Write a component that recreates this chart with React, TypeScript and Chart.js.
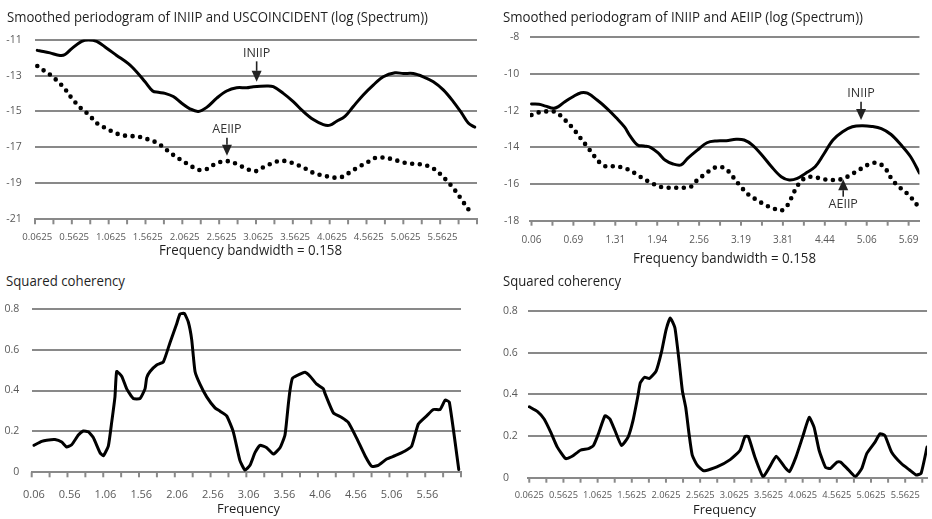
import React, { useEffect, useRef } from "react";
import { Chart, registerables } from "chart.js";

Chart.register(...registerables);

const GRID = "#898989";
const TICK_TEXT = "#595959";
const INK = "#000000";
const FONT = "'Open Sans', 'Noto Sans', sans-serif";

// ---------- Top-left: Smoothed periodogram of INIIP and USCOINCIDENT ----------
const tlIniipFreq = [0.0625, 0.144, 0.235, 0.371, 0.439, 0.53, 0.665, 0.755, 0.869, 1.005, 1.14, 1.298, 1.412, 1.525, 1.629, 1.705, 1.796, 1.909, 2.023, 2.135, 2.248, 2.362, 2.498, 2.633, 2.769, 2.905, 2.994, 3.176, 3.266, 3.402, 3.537, 3.673, 3.809, 3.945, 4.036, 4.126, 4.239, 4.352, 4.487, 4.623, 4.759, 4.918, 5.031, 5.166, 5.302, 5.438, 5.574, 5.709, 5.823, 5.913, 6.0];
const tlIniipVal = [-11.6, -11.66, -11.74, -11.88, -11.83, -11.5, -11.1, -11.02, -11.1, -11.48, -11.88, -12.34, -12.8, -13.35, -13.86, -13.93, -13.99, -14.17, -14.54, -14.85, -15.0, -14.77, -14.26, -13.86, -13.68, -13.68, -13.62, -13.58, -13.62, -13.99, -14.45, -15.0, -15.45, -15.73, -15.76, -15.54, -15.27, -14.72, -14.08, -13.53, -13.07, -12.85, -12.89, -12.89, -13.07, -13.35, -13.8, -14.45, -15.09, -15.64, -15.87];
const tlOtherFreq = [0.0625, 0.144, 0.235, 0.348, 0.438, 0.53, 0.642, 0.755, 0.886, 0.995, 1.117, 1.226, 1.348, 1.457, 1.565, 1.687, 1.769, 1.864, 1.959, 2.068, 2.162, 2.257, 2.366, 2.475, 2.583, 2.678, 2.787, 2.909, 3.018, 3.126, 3.248, 3.357, 3.452, 3.56, 3.669, 3.791, 3.9, 4.008, 4.13, 4.212, 4.307, 4.415, 4.537, 4.646, 4.755, 4.877, 4.986, 5.094, 5.216, 5.325, 5.434, 5.529, 5.638, 5.733, 5.828, 5.923, 5.98];
const tlOtherVal = [-12.47, -12.7, -12.95, -13.35, -13.75, -14.26, -14.77, -15.16, -15.7, -15.93, -16.19, -16.33, -16.37, -16.42, -16.55, -16.74, -16.97, -17.29, -17.56, -17.84, -18.07, -18.25, -18.2, -17.92, -17.78, -17.78, -17.96, -18.2, -18.33, -18.11, -17.89, -17.74, -17.78, -17.92, -18.11, -18.38, -18.53, -18.62, -18.69, -18.62, -18.38, -18.11, -17.84, -17.59, -17.56, -17.65, -17.78, -17.89, -17.92, -17.98, -18.16, -18.47, -18.93, -19.39, -19.94, -20.49, -20.73];
const tlLabelFreq = [0.0625, 0.5625, 1.0625, 1.5625, 2.0625, 2.5625, 3.0625, 3.5625, 4.0625, 4.5625, 5.0625, 5.5625];
const tlLabels = ["0.0625", "0.5625", "1.0625", "1.5625", "2.0625", "2.5625", "3.0625", "3.5625", "4.0625", "4.5625", "5.0625", "5.5625"];

// ---------- Top-right: Smoothed periodogram of INIIP and AEIIP ----------
const trIniipFreq = [0.0625, 0.174, 0.271, 0.391, 0.463, 0.56, 0.68, 0.802, 0.897, 1.041, 1.186, 1.33, 1.452, 1.524, 1.644, 1.741, 1.836, 1.958, 2.053, 2.174, 2.294, 2.391, 2.536, 2.68, 2.825, 2.969, 3.114, 3.234, 3.354, 3.498, 3.643, 3.787, 3.908, 4.028, 4.148, 4.293, 4.414, 4.559, 4.703, 4.848, 4.992, 5.137, 5.281, 5.426, 5.57, 5.715, 5.849];
const trIniipVal = [-11.64, -11.65, -11.75, -11.87, -11.78, -11.51, -11.24, -11.02, -11.05, -11.42, -11.87, -12.4, -12.9, -13.33, -13.87, -13.93, -14.0, -14.33, -14.69, -14.91, -14.96, -14.6, -14.15, -13.75, -13.65, -13.64, -13.56, -13.6, -13.87, -14.42, -15.06, -15.6, -15.78, -15.69, -15.42, -15.06, -14.42, -13.6, -13.15, -12.88, -12.82, -12.86, -12.98, -13.3, -13.85, -14.5, -15.4];
const trAeiipFreq = [0.0625, 0.151, 0.247, 0.343, 0.44, 0.56, 0.68, 0.777, 0.874, 0.969, 1.066, 1.186, 1.307, 1.403, 1.524, 1.644, 1.764, 1.861, 1.981, 2.102, 2.222, 2.342, 2.439, 2.536, 2.656, 2.776, 2.872, 2.969, 3.065, 3.186, 3.306, 3.426, 3.547, 3.667, 3.787, 3.884, 3.981, 4.076, 4.173, 4.293, 4.414, 4.559, 4.703, 4.823, 4.943, 5.088, 5.209, 5.329, 5.449, 5.57, 5.69, 5.849];
const trAeiipVal = [-12.24, -12.11, -12.06, -12.02, -12.11, -12.5, -12.96, -13.42, -13.87, -14.33, -14.78, -15.06, -15.02, -15.09, -15.24, -15.51, -15.78, -15.96, -16.15, -16.2, -16.2, -16.2, -16.15, -15.78, -15.45, -15.14, -15.06, -15.2, -15.6, -16.15, -16.6, -16.87, -17.14, -17.32, -17.45, -17.14, -16.42, -15.87, -15.63, -15.63, -15.74, -15.78, -15.72, -15.5, -15.24, -14.94, -14.84, -15.1, -15.8, -16.23, -16.6, -17.3];
const trLabelFreq = [0.0625, 0.6875, 1.3125, 1.9375, 2.5625, 3.1875, 3.8125, 4.4375, 5.0625, 5.6875];
const trLabels = ["0.06", "0.69", "1.31", "1.94", "2.56", "3.19", "3.81", "4.44", "5.06", "5.69"];

// ---------- Bottom-left: Squared coherency ----------
const blFreq = [0.0625, 0.171, 0.241, 0.357, 0.451, 0.52, 0.59, 0.683, 0.752, 0.822, 0.892, 0.986, 1.032, 1.102, 1.149, 1.195, 1.219, 1.289, 1.359, 1.451, 1.545, 1.615, 1.639, 1.685, 1.778, 1.871, 1.964, 2.058, 2.104, 2.164, 2.22, 2.267, 2.314, 2.383, 2.477, 2.593, 2.663, 2.756, 2.849, 2.942, 3.012, 3.082, 3.152, 3.222, 3.316, 3.408, 3.502, 3.571, 3.617, 3.641, 3.676, 3.781, 3.851, 3.921, 4.015, 4.107, 4.131, 4.247, 4.364, 4.456, 4.574, 4.69, 4.783, 4.875, 4.993, 5.109, 5.249, 5.342, 5.435, 5.552, 5.645, 5.739, 5.81, 5.868, 6.0];
const blVal = [0.132, 0.151, 0.157, 0.16, 0.148, 0.124, 0.135, 0.182, 0.202, 0.198, 0.17, 0.096, 0.081, 0.128, 0.244, 0.369, 0.493, 0.47, 0.408, 0.361, 0.361, 0.408, 0.463, 0.493, 0.525, 0.54, 0.634, 0.727, 0.774, 0.777, 0.735, 0.65, 0.493, 0.431, 0.369, 0.315, 0.299, 0.276, 0.198, 0.057, 0.011, 0.034, 0.096, 0.132, 0.12, 0.089, 0.12, 0.182, 0.33, 0.4, 0.46, 0.48, 0.489, 0.47, 0.431, 0.408, 0.385, 0.291, 0.268, 0.244, 0.166, 0.081, 0.029, 0.034, 0.065, 0.081, 0.104, 0.128, 0.236, 0.276, 0.307, 0.307, 0.353, 0.343, 0.014];
const blLabelFreq = [0.0625, 0.5625, 1.0625, 1.5625, 2.0625, 2.5625, 3.0625, 3.5625, 4.0625, 4.5625, 5.0625, 5.5625];
const blLabels = ["0.06", "0.56", "1.06", "1.56", "2.06", "2.56", "3.06", "3.56", "4.06", "4.56", "5.06", "5.56"];

// ---------- Bottom-right: Squared coherency ----------
const brFreq = [0.0625, 0.184, 0.28, 0.376, 0.473, 0.593, 0.69, 0.81, 0.93, 1.002, 1.074, 1.171, 1.243, 1.316, 1.412, 1.508, 1.58, 1.652, 1.687, 1.749, 1.821, 1.918, 1.999, 2.063, 2.125, 2.193, 2.255, 2.303, 2.352, 2.4, 2.447, 2.52, 2.616, 2.808, 3.002, 3.147, 3.219, 3.267, 3.363, 3.483, 3.58, 3.675, 3.797, 3.869, 3.965, 4.061, 4.158, 4.23, 4.303, 4.398, 4.47, 4.567, 4.615, 4.712, 4.832, 4.928, 5.0, 5.121, 5.193, 5.265, 5.362, 5.506, 5.626, 5.723, 5.795, 5.882];
const brVal = [0.341, 0.318, 0.282, 0.219, 0.147, 0.092, 0.103, 0.132, 0.14, 0.155, 0.211, 0.298, 0.282, 0.227, 0.155, 0.195, 0.274, 0.393, 0.456, 0.483, 0.477, 0.512, 0.607, 0.71, 0.768, 0.721, 0.559, 0.417, 0.337, 0.211, 0.108, 0.06, 0.033, 0.052, 0.087, 0.132, 0.198, 0.198, 0.1, 0.005, 0.052, 0.103, 0.052, 0.029, 0.1, 0.195, 0.29, 0.242, 0.132, 0.049, 0.045, 0.076, 0.076, 0.045, 0.005, 0.045, 0.116, 0.171, 0.211, 0.203, 0.124, 0.068, 0.037, 0.013, 0.021, 0.147];
const brLabelFreq = [0.0625, 0.5625, 1.0625, 1.5625, 2.0625, 2.5625, 3.0625, 3.5625, 4.0625, 4.5625, 5.0625, 5.5625];
const brLabels = ["0.0625", "0.5625", "1.0625", "1.5625", "2.0625", "2.5625", "3.0625", "3.5625", "4.0625", "4.5625", "5.0625", "5.5625"];

const marks = (start: number, step: number, end: number) => {
  const out: number[] = [];
  for (let v = start; v <= end + 1e-9; v += step) out.push(v);
  return out;
};

const panels = [
  {
    key: "tl", cx: 0, cy: 20, cw: 480, ch: 240, padL: 0,
    area: { l: 35, t: 37.3, r: 477, b: 219.3 },
    xMin: 0.03125, xMax: 6.03125, yMin: -21, yMax: -11, yStep: 2,
    labelFreq: tlLabelFreq, labels: tlLabels, tickMarks: marks(0.03125, 0.25, 6.03125),
    xPad: 12.3, xFont: 9.6, yPad: 13.3, yFont: 10.5, yAlign: "near", tension: 0.35,
    series: [
      { freq: tlIniipFreq, val: tlIniipVal, dotted: false },
      { freq: tlOtherFreq, val: tlOtherVal, dotted: true },
    ],
    notes: [
      { text: "INIIP", x: 3.04, textY: -11.79, baseY: -12.21, tipY: -13.35 },
      { text: "AEIIP", x: 2.637, textY: -16.01, baseY: -16.46, tipY: -17.47 },
    ],
  },
  {
    key: "tr", cx: 470, cy: 20, cw: 462, ch: 250, padL: 0,
    area: { l: 530, t: 37.3, r: 932, b: 220.7 },
    xMin: 0.04, xMax: 5.849, yMin: -18, yMax: -8, yStep: 2,
    labelFreq: trLabelFreq, labels: trLabels, tickMarks: marks(0.0625, 0.3125, 5.849),
    xPad: 13.5, xFont: 10, yPad: 10.7, yFont: 10.5, yAlign: "near", tension: 0.35,
    series: [
      { freq: trIniipFreq, val: trIniipVal, dotted: false },
      { freq: trAeiipFreq, val: trAeiipVal, dotted: true },
    ],
    notes: [
      { text: "INIIP", x: 4.978, textY: -11.05, baseY: -11.51, tipY: -12.51 },
      { text: "AEIIP", x: 4.712, textY: -17.14, baseY: -16.69, tipY: -15.74 },
    ],
  },
  {
    key: "bl", cx: 0, cy: 290, cw: 470, ch: 229, padL: 0,
    area: { l: 31.7, t: 301, r: 461, b: 472.3 },
    xMin: 0.03125, xMax: 6.03125, yMin: 0, yMax: 0.8, yStep: 0.2,
    labelFreq: blLabelFreq, labels: blLabels, tickMarks: marks(0.03125, 0.25, 6.03125),
    xPad: 15.8, xFont: 11, yPad: 12.4, yFont: 10.5, yAlign: "near", tension: 0.15,
    series: [{ freq: blFreq, val: blVal, dotted: false }],
    notes: [],
  },
  {
    key: "br", cx: 466, cy: 295, cw: 466, ch: 224, padL: 37,
    area: { l: 528, t: 309.3, r: 932, b: 477.7 },
    xMin: 0.044, xMax: 5.882, yMin: 0, yMax: 0.8, yStep: 0.2,
    labelFreq: brLabelFreq, labels: brLabels, tickMarks: marks(0.0625, 0.25, 5.882),
    xPad: 12.3, xFont: 9.3, yPad: 10, yFont: 10.5, yAlign: "far", tension: 0.15,
    series: [{ freq: brFreq, val: brVal, dotted: false }],
    notes: [],
  },
];

const texts = [
  { text: "Smoothed periodogram of INIIP and USCOINCIDENT (log (Spectrum))", x: 7.3, baseline: 22.7, size: 14, width: 421, align: "left" },
  { text: "Smoothed periodogram of INIIP and AEIIP (log (Spectrum))", x: 502.7, baseline: 22.7, size: 14, width: 360, align: "left" },
  { text: "Frequency bandwidth = 0.158", x: 250, baseline: 255.5, size: 14, width: 183, align: "center" },
  { text: "Frequency bandwidth = 0.158", x: 724.3, baseline: 263.5, size: 14, width: 183, align: "center" },
  { text: "Squared coherency", x: 6, baseline: 286.7, size: 14, width: 119, align: "left" },
  { text: "Squared coherency", x: 502.7, baseline: 286, size: 14, width: 118, align: "left" },
  { text: "Frequency", x: 248.3, baseline: 514, size: 13, width: 63, align: "center" },
  { text: "Frequency", x: 724.3, baseline: 515, size: 13, width: 63, align: "center" },
];

let measureCtx: CanvasRenderingContext2D | null = null;
function measure(text: string, size: number) {
  if (!measureCtx) measureCtx = document.createElement("canvas").getContext("2d");
  measureCtx!.font = `${size}px ${FONT}`;
  return measureCtx!.measureText(text).width;
}

function TextLabel(props: any) {
  const { text, x, baseline, size, width, align } = props;
  const w0 = measure(text, size);
  const s = width / w0;
  const left = align === "center" ? x - width / 2 : x;
  return (
    <div
      style={{
        position: "absolute",
        left,
        top: baseline - 0.888 * size,
        fontFamily: FONT,
        fontSize: size,
        lineHeight: `${size}px`,
        color: "#1f1f1f",
        whiteSpace: "nowrap",
        transform: `scaleX(${s})`,
        transformOrigin: "0 0",
      }}
    >
      {text}
    </div>
  );
}

function decorPlugin(p: any) {
  return {
    id: "decor_" + p.key,
    afterDraw(chart: any) {
      const { ctx, chartArea } = chart;
      const x = chart.scales.x;
      const y = chart.scales.y;
      ctx.save();
      ctx.strokeStyle = GRID;
      ctx.lineWidth = 2;
      for (const t of p.tickMarks) {
        const px = x.getPixelForValue(t);
        ctx.beginPath();
        ctx.moveTo(px, chartArea.bottom);
        ctx.lineTo(px, chartArea.bottom + 5);
        ctx.stroke();
      }
      for (const n of p.notes) {
        const px = x.getPixelForValue(n.x);
        const ty = y.getPixelForValue(n.textY);
        const by = y.getPixelForValue(n.baseY);
        const tip = y.getPixelForValue(n.tipY);
        ctx.fillStyle = "#333333";
        ctx.font = `12.5px ${FONT}`;
        ctx.textAlign = "center";
        ctx.textBaseline = "middle";
        ctx.fillText(n.text, px, ty);
        const dir = tip > by ? 1 : -1;
        const headLen = 11;
        const headW = 10;
        ctx.strokeStyle = "#222222";
        ctx.lineWidth = 1.6;
        ctx.beginPath();
        ctx.moveTo(px, by);
        ctx.lineTo(px, tip - dir * headLen);
        ctx.stroke();
        ctx.fillStyle = "#222222";
        ctx.beginPath();
        ctx.moveTo(px, tip);
        ctx.lineTo(px - headW / 2, tip - dir * headLen);
        ctx.lineTo(px + headW / 2, tip - dir * headLen);
        ctx.closePath();
        ctx.fill();
      }
      ctx.restore();
    },
  };
}

function buildConfig(p: any): any {
  const padT = p.area.t - p.cy;
  const yW = p.area.l - p.cx - p.padL;
  const padR = p.cx + p.cw - p.area.r;
  const xH = p.ch - (p.area.b - p.cy);
  return {
    type: "line",
    data: {
      datasets: p.series.map((s: any) => ({
        data: s.freq.map((f: number, i: number) => ({ x: f, y: s.val[i] })),
        borderColor: INK,
        borderWidth: s.dotted ? 4.6 : 3,
        borderDash: s.dotted ? [0, 7.6] : [],
        borderCapStyle: "round",
        borderJoinStyle: "round",
        pointRadius: 0,
        tension: p.tension,
        fill: false,
      })),
    },
    options: {
      animation: false,
      responsive: false,
      events: [],
      layout: { padding: { top: padT, left: p.padL, right: padR, bottom: 0 } },
      plugins: { legend: { display: false }, tooltip: { enabled: false }, title: { display: false } },
      scales: {
        x: {
          type: "linear",
          min: p.xMin,
          max: p.xMax,
          afterBuildTicks: (s: any) => {
            s.ticks = p.labelFreq.map((v: number) => ({ value: v }));
          },
          afterFit: (s: any) => {
            s.height = xH;
          },
          ticks: {
            autoSkip: false,
            maxRotation: 0,
            minRotation: 0,
            padding: p.xPad,
            color: TICK_TEXT,
            font: { family: FONT, size: p.xFont },
            callback: (_v: any, i: number) => p.labels[i],
          },
          grid: { display: false, drawTicks: false },
          border: { display: true, color: GRID, width: 2 },
        },
        y: {
          min: p.yMin,
          max: p.yMax,
          ticks: {
            stepSize: p.yStep,
            padding: p.yPad,
            crossAlign: p.yAlign,
            color: TICK_TEXT,
            font: { family: FONT, size: p.yFont },
          },
          afterFit: (s: any) => {
            s.width = yW;
          },
          grid: { color: GRID, lineWidth: 2, drawTicks: false },
          border: { display: false },
        },
      },
    },
    plugins: [decorPlugin(p)],
  };
}

function PanelChart({ p }: { p: any }) {
  const ref = useRef<HTMLCanvasElement>(null);
  useEffect(() => {
    if (!ref.current) return;
    const chart = new Chart(ref.current, buildConfig(p));
    return () => chart.destroy();
  }, [p]);
  return (
    <canvas
      ref={ref}
      width={p.cw}
      height={p.ch}
      style={{ position: "absolute", left: p.cx, top: p.cy, width: p.cw, height: p.ch }}
    />
  );
}

export default function App() {
  return (
    <div
      style={{
        position: "fixed",
        left: 0,
        top: 0,
        width: 932,
        height: 519,
        overflow: "hidden",
        background: "#ffffff",
      }}
    >
      {panels.map((p) => (
        <PanelChart key={p.key} p={p} />
      ))}
      {texts.map((t, i) => (
        <TextLabel key={i} {...t} />
      ))}
    </div>
  );
}
